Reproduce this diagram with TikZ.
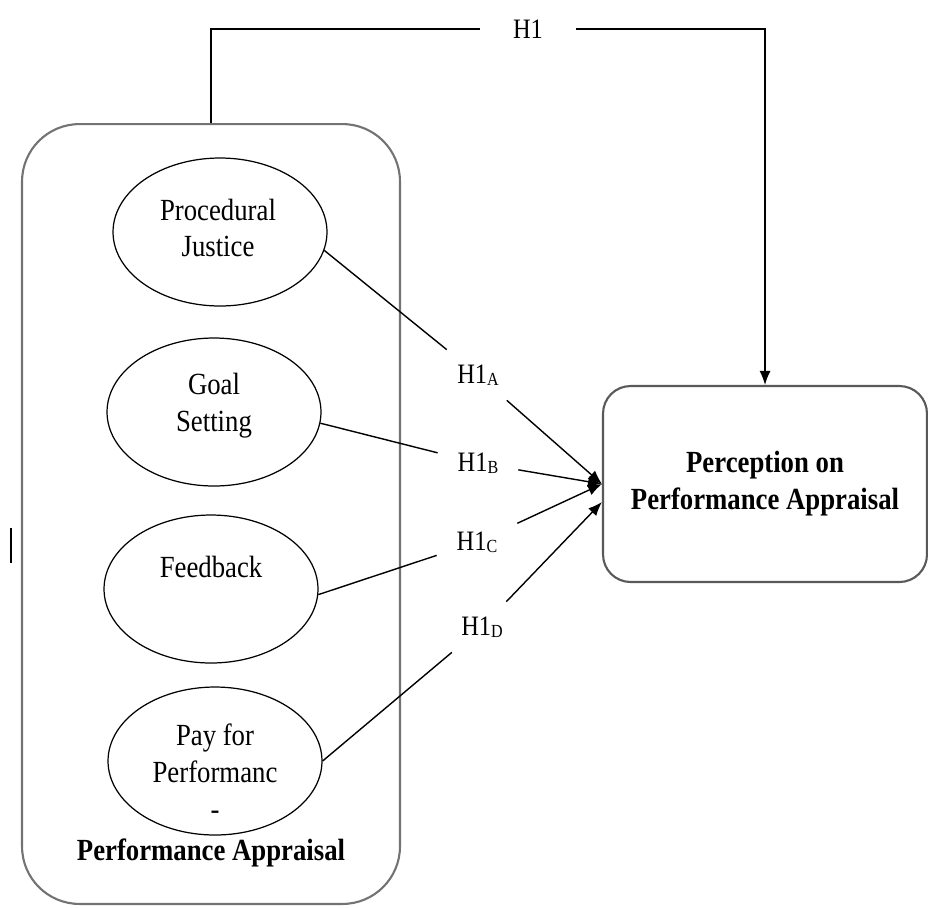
\documentclass[tikz,border=0pt]{standalone}
\usepackage{fontspec}
\setmainfont{Liberation Serif}[FakeStretch=0.87]
\usetikzlibrary{shapes.geometric,arrows.meta}

\newcommand{\hsub}[1]{\raisebox{-1.2pt}{\fontsize{10.5}{10.5}\selectfont #1}}

\begin{document}
\begin{tikzpicture} [ x=0.02cm, y=-0.02cm,
    every node/.style={font=\fontsize{17.5}{21}\selectfont},
    factor/.style={draw, ellipse, line width=0.7pt, minimum width=4.28cm, minimum height=2.96cm, inner sep=0pt},
    hyp/.style={font=\fontsize{16}{18}\selectfont, minimum width=1.6cm, minimum height=1cm, inner sep=0pt},
    frame/.style={draw=black!55, line width=1.2pt, rounded corners=1.15cm},
    link/.style={line width=0.8pt},
    arr/.style={link, -{Latex[length=2.8mm,width=2.2mm]}},
    ]
    \useasboundingbox (0,0) rectangle (928,907);

    % left block
    \node[frame, minimum width=7.56cm, minimum height=15.6cm] (pa) at (211,514) {};
    \node[font=\bfseries\fontsize{17.5}{21}\selectfont] (patitle) at (211,853) {Performance Appraisal};

    \node[factor] (pj) at (220,232) {};
    \node[align=center] (pjtext) at (218,228) {Procedural\\Justice};
    \node[factor] (gs) at (214,412) {};
    \node[align=center] (gstext) at (214,406) {Goal\\Setting};
    \node[factor] (fb) at (211,589) {};
    \node (fbtext) at (211,567) {Feedback};
    \node[factor] (pp) at (215,761) {};
    \node[align=center] (pptext) at (215,772) {Pay for\\Performanc\\-};

    % right block
    \node[frame, draw=black!65, rounded corners=0.55cm, minimum width=6.48cm, minimum height=3.92cm, align=center,
          font=\bfseries\fontsize{17.5}{21}\selectfont] (ppa) at (765,484) {Perception on\\Performance Appraisal};

    % hypotheses
    \node[hyp] (ha) at (478,375) {H1\hsub{A}};
    \node[hyp] (hb) at (478,463) {H1\hsub{B}};
    \node[hyp] (hc) at (477,542) {H1\hsub{C}};
    \node[hyp] (hd) at (482,627) {H1\hsub{D}};
    \node[hyp, minimum width=1.92cm] (hone) at (528,29) {H1};

    \draw[link] (pj.-10) -- (ha);
    \draw[link] (gs.-6) -- (hb);
    \draw[link] (fb.-3) -- (hc);
    \draw[link] (pp.east) -- (hd);

    \draw[arr] (ha) -- (ppa.west);
    \draw[arr] (hb) -- (ppa.west);
    \draw[arr] (hc) -- (ppa.west);
    \draw[arr] (hd) -- ([yshift=-0.36cm]ppa.west);

    \draw[link] (pa.north) |- (hone.west);
    \draw[arr] (hone.east) -| (ppa.north);

    % stray mark
    \draw[line width=1.7pt] (11,528) -- (11,563);
\end{tikzpicture}
\end{document}
